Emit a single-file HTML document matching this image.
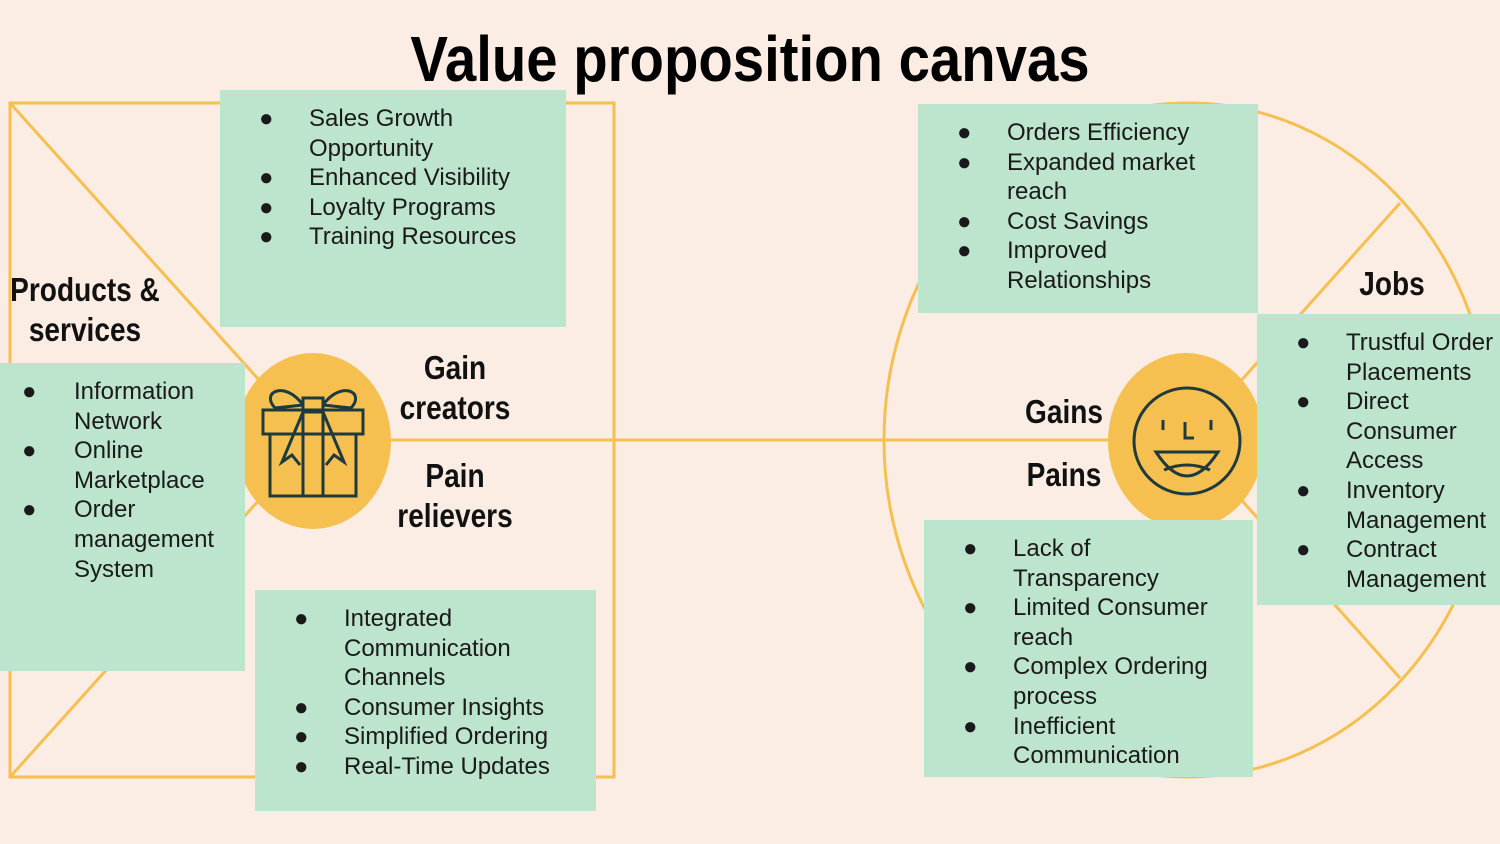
<!DOCTYPE html>
<html><head><meta charset="utf-8"><style>
body{margin:0;width:1500px;height:844px;background:#fbede4;position:relative;overflow:hidden;font-family:"Liberation Sans",sans-serif;}
.box{position:absolute;background:#bde4cc;}
.box ul{margin:0;padding:0;list-style:none;}
.box li{position:relative;font-size:24px;line-height:29.6px;color:#1a1a1a;}
.lbl{position:absolute;font-weight:bold;color:#111;font-size:33px;line-height:40px;text-align:center;transform:scaleX(0.85);transform-origin:center;white-space:nowrap;z-index:2;}
</style></head><body>
<svg width="1500" height="844" style="position:absolute;left:0;top:0">
<g stroke="#f5c04f" stroke-width="3" fill="none">
<rect x="10" y="103" width="604" height="674"/>
<line x1="10" y1="103" x2="313" y2="440"/>
<line x1="10" y1="777" x2="313" y2="440"/>
<line x1="313" y1="440" x2="1188" y2="440"/>
<ellipse cx="1188" cy="440" rx="304" ry="337"/>
<line x1="1188" y1="440" x2="1400" y2="203"/>
<line x1="1188" y1="440" x2="1400" y2="678"/>
</g>
<ellipse cx="313" cy="441" rx="78" ry="88" fill="#f5c04f"/>
<ellipse cx="1186" cy="441" rx="78" ry="88" fill="#f5c04f"/>
<g stroke="#1f3a3d" stroke-width="3" fill="none">
<rect x="263" y="410" width="100" height="24"/>
<rect x="270" y="434" width="86" height="62"/>
<line x1="303" y1="410" x2="303" y2="496"/><line x1="323" y1="410" x2="323" y2="496"/>
<path d="M303 405 C285 380,260 392,275 408 L303 405 M323 405 C341 380,366 392,351 408 L323 405"/>
<rect x="303" y="398" width="20" height="14"/>
<path d="M303 412 L282 462 L292 455 L300 465 M323 412 L344 462 L334 455 L326 465"/>
</g>
<g stroke="#1f3a3d" stroke-width="3" fill="none">
<circle cx="1187" cy="441" r="53"/>
<line x1="1163" y1="420" x2="1163" y2="430"/><line x1="1211" y1="420" x2="1211" y2="430"/>
<path d="M1185 422 L1185 438 L1194 438"/>
<path d="M1156 452 Q1187 500 1218 452 Z"/>
<path d="M1164 470 Q1187 460 1210 470"/>
</g>
</svg>
<div style="position:absolute;left:0;width:1500px;top:22px;text-align:center;font-weight:bold;font-size:64px;color:#000;transform:scaleX(0.88);">Value proposition canvas</div>

<div class="lbl" style="left:-20px;top:270px;width:210px;">Products &amp;<br>services</div>
<div class="lbl" style="left:375px;top:348px;width:160px;">Gain<br>creators</div>
<div class="lbl" style="left:375px;top:456px;width:160px;">Pain<br>relievers</div>
<div class="lbl" style="left:1014px;top:392px;width:100px;">Gains</div>
<div class="lbl" style="left:1014px;top:455px;width:100px;">Pains</div>
<div class="lbl" style="left:1342px;top:264px;width:100px;">Jobs</div>

<div class="box" style="left:220px;top:90px;width:346px;height:237px;">
<ul style="padding:14px 0 0 89px;">
<li><span style="position:absolute;left:-50px">●</span>Sales Growth<br>Opportunity</li>
<li><span style="position:absolute;left:-50px">●</span>Enhanced Visibility</li>
<li><span style="position:absolute;left:-50px">●</span>Loyalty Programs</li>
<li><span style="position:absolute;left:-50px">●</span>Training Resources</li>
</ul></div>

<div class="box" style="left:0;top:363px;width:245px;height:308px;">
<ul style="padding:14px 0 0 74px;">
<li><span style="position:absolute;left:-52px">●</span>Information<br>Network</li>
<li><span style="position:absolute;left:-52px">●</span>Online<br>Marketplace</li>
<li><span style="position:absolute;left:-52px">●</span>Order<br>management<br>System</li>
</ul></div>

<div class="box" style="left:255px;top:590px;width:341px;height:221px;">
<ul style="padding:14px 0 0 89px;">
<li><span style="position:absolute;left:-50px">●</span>Integrated<br>Communication<br>Channels</li>
<li><span style="position:absolute;left:-50px">●</span>Consumer Insights</li>
<li><span style="position:absolute;left:-50px">●</span>Simplified Ordering</li>
<li><span style="position:absolute;left:-50px">●</span>Real-Time Updates</li>
</ul></div>

<div class="box" style="left:918px;top:104px;width:340px;height:209px;">
<ul style="padding:14px 0 0 89px;">
<li><span style="position:absolute;left:-50px">●</span>Orders Efficiency</li>
<li><span style="position:absolute;left:-50px">●</span>Expanded market<br>reach</li>
<li><span style="position:absolute;left:-50px">●</span>Cost Savings</li>
<li><span style="position:absolute;left:-50px">●</span>Improved<br>Relationships</li>
</ul></div>

<div class="box" style="left:924px;top:520px;width:329px;height:257px;">
<ul style="padding:14px 0 0 89px;">
<li><span style="position:absolute;left:-50px">●</span>Lack of<br>Transparency</li>
<li><span style="position:absolute;left:-50px">●</span>Limited Consumer<br>reach</li>
<li><span style="position:absolute;left:-50px">●</span>Complex Ordering<br>process</li>
<li><span style="position:absolute;left:-50px">●</span>Inefficient<br>Communication</li>
</ul></div>

<div class="box" style="left:1257px;top:314px;width:243px;height:291px;overflow:hidden;">
<ul style="padding:14px 0 0 89px;white-space:nowrap;">
<li><span style="position:absolute;left:-50px">●</span>Trustful Order<br>Placements</li>
<li><span style="position:absolute;left:-50px">●</span>Direct<br>Consumer<br>Access</li>
<li><span style="position:absolute;left:-50px">●</span>Inventory<br>Management</li>
<li><span style="position:absolute;left:-50px">●</span>Contract<br>Management</li>
</ul></div>
</body></html>
